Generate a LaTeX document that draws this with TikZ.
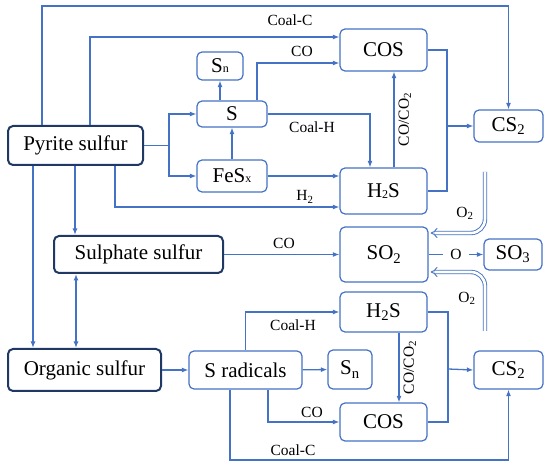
\documentclass[tikz,border=0pt]{standalone}
\usepackage{fontspec}
\setmainfont{Liberation Serif}
\usetikzlibrary{arrows.meta}
\definecolor{flow}{HTML}{4472C4}
\definecolor{navy}{HTML}{1F3864}

\begin{document}
\begin{tikzpicture}[x=1pt,y=-1pt,>={Latex[length=6.5pt,width=5pt]},
  box/.style={draw=flow,line width=1.2pt,rounded corners=5pt,inner sep=0pt,
    font=\fontsize{21}{24}\selectfont},
  srcbox/.style={box,draw=navy,line width=2pt},
  ln/.style={flow,line width=1.3pt},
  lbl/.style={font=\fontsize{15.5}{18}\selectfont,inner sep=1pt,text=black},
  oxy/.style={flow,line width=0.9pt,double,double distance=2.6pt,
    -{Implies},rounded corners=14pt}]
  \useasboundingbox (0,0) rectangle (550,468);

  % sulfur forms in coal
  \node[srcbox,minimum width=135pt,minimum height=39pt] (pyrite)
    at (75.5,145.5) {Pyrite sulfur};
  \node[srcbox,minimum width=169pt,minimum height=37pt] (sulphate)
    at (138.5,254.5) {Sulphate sulfur};
  \node[srcbox,minimum width=153pt,minimum height=42pt] (organic)
    at (84.5,370) {Organic sulfur};

  % pyrite branch
  \node[box,minimum width=70pt,minimum height=26pt] (s) at (232,114) {S};
  \node[box,minimum width=46pt,minimum height=28pt] (sntop) at (220,66)
    {S{\fontsize{12}{12}\selectfont n}};
  \node[box,minimum width=70pt,minimum height=32pt] (fesx) at (232,176)
    {FeS{\fontsize{12}{12}\selectfont x}};
  \node[box,minimum width=87pt,minimum height=42pt] (cost) at (383.5,50) {COS};
  \node[box,minimum width=87pt,minimum height=46pt] (h2st) at (383.5,191)
    {H\raisebox{-1pt}{\fontsize{12}{12}\selectfont 2}S};
  \node[box,minimum width=69pt,minimum height=32pt] (cs2t) at (508.5,126)
    {CS\textsubscript{2}};

  % sulphate branch
  \node[box,minimum width=88pt,minimum height=55pt] (so2) at (384,254.5)
    {SO\textsubscript{2}};
  \node[box,minimum width=58pt,minimum height=31pt] (so3) at (513,254.5)
    {SO\textsubscript{3}};

  % organic branch
  \node[box,minimum width=113pt,minimum height=38pt] (srad) at (245.5,370)
    {S radicals};
  \node[box,minimum width=44pt,minimum height=39pt] (snb) at (350,369.5)
    {S\textsubscript{n}};
  \node[box,minimum width=87pt,minimum height=40pt] (h2sb) at (383.5,312)
    {H\textsubscript{2}S};
  \node[box,minimum width=87pt,minimum height=38pt] (cosb) at (383.5,422)
    {COS};
  \node[box,minimum width=69pt,minimum height=38pt] (cs2b) at (508.5,370)
    {CS\textsubscript{2}};

  % pyrite connectors
  \draw[ln,->] (pyrite.north -| 42,0) -- (42,6) -| (cs2t.north);
  \draw[ln,->] (pyrite.north -| 90,0) |- (cost.west |- 0,37);
  \draw[ln] (pyrite.east) -- (169,145.5) coordinate (fork);
  \draw[ln,->] (fork) |- (s.west);
  \draw[ln,->] (fork) |- (fesx.west);
  \draw[ln,->] (fesx.north) -- (s.south);
  \draw[ln,->] (sntop.south |- s.north) -- (sntop.south);
  \draw[ln,->] (s.north -| 257,0) |- (cost.west |- 0,63);
  \draw[ln,->] (s.east) -| (h2st.north -| 370,0);
  \draw[ln,->] (fesx.east) -- (h2st.west |- fesx.east);
  \draw[ln,->] (pyrite.south -| 115,0) |- (h2st.west |- 0,207);
  \draw[ln,->] (h2st.north -| 394,0) -- (cost.south -| 394,0)
    node[midway,lbl,rotate=90,anchor=north,inner sep=4pt] (cot)
    {CO/CO\textsubscript{2}};
  \coordinate (jtop) at (447,126);
  \draw[ln] (cost.east) -| (jtop |- h2st.east) -- (h2st.east);
  \draw[ln,->] (jtop) -- (cs2t.west);

  \node[lbl] (coalct) at (290,20) {Coal-C};
  \node[lbl] (cotop) at (302,51) {CO};
  \node[lbl] (coalht) at (312,127) {Coal-H};
  \node[lbl] (htwo) at (305,197) {H\textsubscript{2}};

  % sulphate connectors
  \draw[ln,->] (pyrite.south -| 75,0) -- (sulphate.north -| 75,0);
  \draw[ln,->] (pyrite.south -| 33,0) -- (organic.north -| 33,0);
  \draw[ln,<->] (sulphate.south -| 76,0) -- (organic.north -| 76,0);
  \draw[ln,->] (sulphate) -- (so2);
  \draw[ln,->] (so2) -- node[lbl,fill=white,inner xsep=7pt] (oatom) {O} (so3);
  \draw[oxy] (485,172) |- ([xshift=2pt]so2.east |- 0,233);
  \draw[oxy] (485,331) |- ([xshift=2pt]so2.east |- 0,272);
  \node[lbl] (cosul) at (284,243) {CO};
  \node[lbl] (otop) at (465,213) {O\textsubscript{2}};
  \node[lbl] (obot) at (467,298) {O\textsubscript{2}};

  % organic connectors
  \draw[ln,->] (organic) -- (srad);
  \draw[ln,->] (srad) -- (snb);
  \draw[ln,->] (srad.north) |- (h2sb.west);
  \draw[ln,->] (srad.south -| 268,0) |- (cosb.west);
  \draw[ln,->] (srad.south -| 230,0) -- (230,460) -| (cs2b.south);
  \draw[ln,->] (h2sb.south -| 399,0) -- (cosb.north -| 399,0)
    node[midway,lbl,rotate=90,anchor=north,inner sep=4pt] (cob)
    {CO/CO\textsubscript{2}};
  \coordinate (jbot) at (448,369);
  \draw[ln] (h2sb.east) -| (jbot |- cosb.east) -- (cosb.east);
  \draw[ln,->] (jbot) -- (cs2b.west);

  \node[lbl] (coalhb) at (293,325) {Coal-H};
  \node[lbl] (cobot) at (312,412) {CO};
  \node[lbl] (coalcb) at (293,450) {Coal-C};
\end{tikzpicture}
\end{document}
